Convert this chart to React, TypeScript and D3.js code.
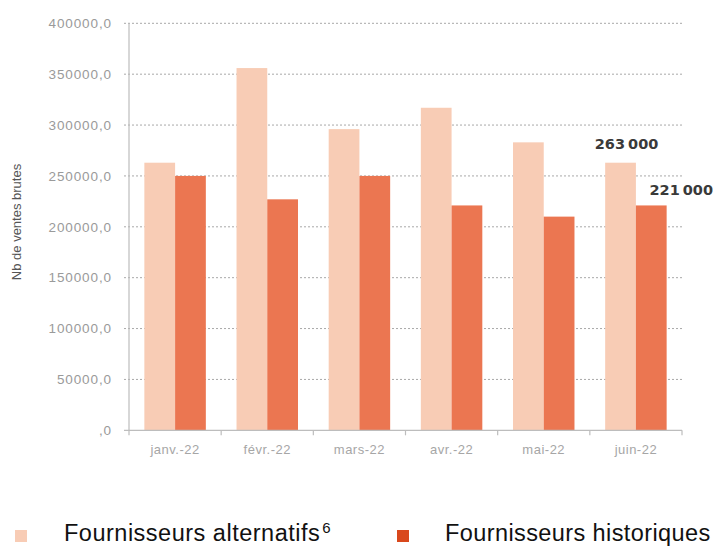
import React, { useEffect, useRef } from "react";
import * as d3 from "d3";

const months = ["janv.-22", "févr.-22", "mars-22", "avr.-22", "mai-22", "juin-22"];
const alternatifs = [263000, 356000, 296000, 317000, 283000, 263000];
const historiques = [250000, 227000, 250000, 221000, 210000, 221000];
const yTicks = [0, 50000, 100000, 150000, 200000, 250000, 300000, 350000, 400000];
const seriesNames = ["Fournisseurs alternatifs", "Fournisseurs historiques"];
const lastLabels = ["263 000", "221 000"];

const W = 720;
const H = 546;
const M = { left: 129, right: 38, top: 23.3, bottom: 115.7 };
const LIGHT = "#f8ccb5";
const DARK = "#eb7651";
const LEGEND_DARK = "#d9481c";

export default function App() {
  const ref = useRef<SVGSVGElement>(null);
  useEffect(() => {
    const svg = d3.select(ref.current);
    svg.selectAll("*").remove();
    const x0 = d3.scaleBand<string>().domain(months).range([M.left, W - M.right]).paddingInner(0.333).paddingOuter(0.1667);
    const x1 = d3.scaleBand<string>().domain(["a", "h"]).range([0, x0.bandwidth()]);
    const y = d3.scaleLinear().domain([0, 400000]).range([H - M.bottom, M.top]);
    const font = "'Liberation Sans', Arial, sans-serif";
    const band = (W - M.left - M.right) / months.length;

    // gridlines
    svg.append("g").selectAll("line").data(yTicks.filter((d) => d > 0)).join("line")
      .attr("x1", M.left - 5).attr("x2", W - M.right)
      .attr("y1", (d) => y(d)).attr("y2", (d) => y(d))
      .attr("stroke", "#a8a8a8").attr("stroke-width", 1).attr("stroke-dasharray", "2,2");

    // y tick labels
    svg.append("g").selectAll("text").data(yTicks).join("text")
      .attr("x", 112).attr("y", (d) => y(d)).attr("dy", "0.35em")
      .attr("text-anchor", "end").attr("font-family", font).attr("font-size", 13.5)
      .attr("fill", "#9a9a9a").attr("letter-spacing", 0.9)
      .text((d) => (d === 0 ? ",0" : d3.format("d")(d) + ",0"));

    // bars
    const g = svg.append("g");
    months.forEach((m, i) => {
      g.append("rect").attr("x", x0(m)! + x1("a")!).attr("y", y(alternatifs[i]))
        .attr("width", x1.bandwidth()).attr("height", y(0) - y(alternatifs[i]))
        .attr("fill", LIGHT);
      g.append("rect").attr("x", x0(m)! + x1("h")!).attr("y", y(historiques[i]))
        .attr("width", x1.bandwidth()).attr("height", y(0) - y(historiques[i]))
        .attr("fill", DARK);
    });

    // axes lines
    svg.append("line").attr("x1", M.left).attr("x2", M.left).attr("y1", M.top).attr("y2", y(0))
      .attr("stroke", "#bdbdbd").attr("stroke-width", 1.2);
    svg.append("line").attr("x1", M.left - 5).attr("x2", W - M.right).attr("y1", y(0)).attr("y2", y(0))
      .attr("stroke", "#bdbdbd").attr("stroke-width", 1.2);
    svg.append("g").selectAll("line").data(d3.range(months.length + 1)).join("line")
      .attr("x1", (i) => M.left + i * band).attr("x2", (i) => M.left + i * band)
      .attr("y1", y(0)).attr("y2", y(0) + 5).attr("stroke", "#bdbdbd").attr("stroke-width", 1.2);

    // x labels
    svg.append("g").selectAll("text").data(months).join("text")
      .attr("x", (d) => x0(d)! + x0.bandwidth() / 2).attr("y", y(0) + 24)
      .attr("text-anchor", "middle").attr("font-family", font).attr("font-size", 13)
      .attr("fill", "#a6a6a6").attr("letter-spacing", 0.5).text((d) => d);

    // y title
    svg.append("text").attr("transform", `translate(21,222) rotate(-90)`)
      .attr("text-anchor", "middle").attr("font-family", font).attr("font-size", 13)
      .attr("fill", "#555").text("Nb de ventes brutes");

    // value labels on last month
    const last = months[months.length - 1];
    const li = months.length - 1;
    svg.append("text").attr("x", x0(last)! + x1("a")! + x1.bandwidth() / 2 + 6).attr("y", y(alternatifs[li]) - 14)
      .attr("text-anchor", "middle").attr("font-family", "'DejaVu Sans', sans-serif").attr("font-weight", "bold")
      .attr("font-size", 14.5).attr("fill", "#3a3a3a").attr("word-spacing", -2).text(lastLabels[0]);
    svg.append("text").attr("x", x0(last)! + x1("h")! + x1.bandwidth() / 2 + 30).attr("y", y(historiques[li]) - 10)
      .attr("text-anchor", "middle").attr("font-family", "'DejaVu Sans', sans-serif").attr("font-weight", "bold")
      .attr("font-size", 14.5).attr("fill", "#3a3a3a").attr("word-spacing", -2).text(lastLabels[1]);

    // legend
    const lg = svg.append("g");
    lg.append("rect").attr("x", 15).attr("y", 530).attr("width", 12).attr("height", 12).attr("fill", LIGHT);
    const t1 = lg.append("text").attr("x", 64).attr("y", 540.5).attr("font-family", font)
      .attr("font-size", 23.5).attr("fill", "#111").attr("letter-spacing", 0.5);
    t1.append("tspan").text(seriesNames[0]);
    t1.append("tspan").attr("font-size", 15).attr("dy", -8).attr("dx", 2).text("6");
    lg.append("rect").attr("x", 397).attr("y", 530).attr("width", 12).attr("height", 12).attr("fill", LEGEND_DARK);
    lg.append("text").attr("x", 445).attr("y", 540.5).attr("font-family", font)
      .attr("font-size", 23.5).attr("fill", "#111").attr("letter-spacing", 0.4).text(seriesNames[1]);
  }, []);
  return (
    <svg ref={ref} width={W} height={H} style={{ position: "absolute", left: 0, top: 0, background: "#fff" }} />
  );
}
